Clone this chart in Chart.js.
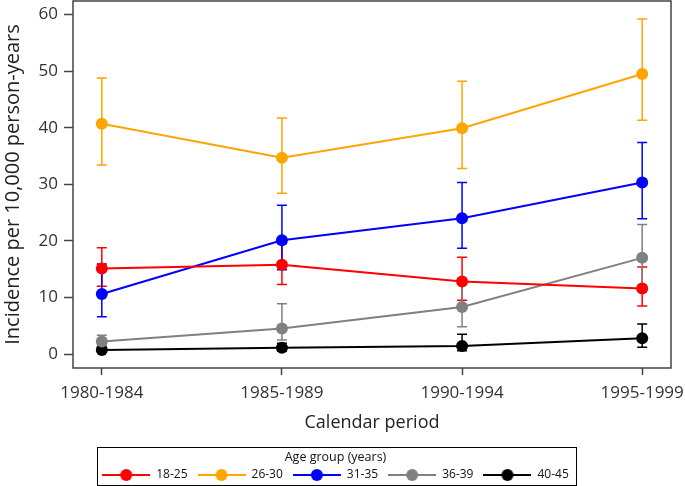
<!DOCTYPE html>
<html>
<head>
<meta charset="utf-8">
<script src="https://cdn.jsdelivr.net/npm/chart.js@4"></script>
<style>
  html, body { margin: 0; padding: 0; background: #fff; }
  #wrap { width: 685px; height: 486px; position: relative; }
</style>
</head>
<body>
<div id="wrap"><canvas id="incidenceChart"></canvas></div>
<script>
// data
const periods = ['1980-1984', '1985-1989', '1990-1994', '1995-1999'];
const ageGroups = ['18-25', '26-30', '31-35', '36-39', '40-45'];
const groupColors = ['#ff0000', '#ffa500', '#0000ff', '#808080', '#000000'];
const yTicks = [0, 10, 20, 30, 40, 50, 60];

const rate18to25 = [15.1, 15.8, 12.8, 11.6];
const lower18to25 = [12.0, 12.3, 9.5, 8.5];
const upper18to25 = [18.8, 19.5, 17.1, 15.4];

const rate26to30 = [40.7, 34.7, 39.9, 49.5];
const lower26to30 = [33.4, 28.4, 32.8, 41.3];
const upper26to30 = [48.8, 41.7, 48.2, 59.2];

const rate31to35 = [10.6, 20.1, 24.0, 30.3];
const lower31to35 = [6.6, 14.9, 18.7, 23.9];
const upper31to35 = [15.9, 26.3, 30.3, 37.4];

const rate36to39 = [2.2, 4.5, 8.3, 17.0];
const lower36to39 = [1.4, 2.5, 4.8, 12.0];
const upper36to39 = [3.3, 8.9, 13.0, 22.9];

const rate40to45 = [0.7, 1.1, 1.4, 2.8];
const lower40to45 = [0.3, 0.5, 0.6, 1.2];
const upper40to45 = [1.2, 1.9, 3.5, 5.3];

const rates = [rate18to25, rate26to30, rate31to35, rate36to39, rate40to45];
const lowers = [lower18to25, lower26to30, lower31to35, lower36to39, lower40to45];
const uppers = [upper18to25, upper26to30, upper31to35, upper36to39, upper40to45];

const FONT = "'Open Sans', 'DejaVu Sans', sans-serif";
const AXIS_COLOR = '#444';

// little line + dot sample for the legend
function legendSymbol(color) {
    const c = document.createElement('canvas');
    c.width = 48; c.height = 14;
    const g = c.getContext('2d');
    g.strokeStyle = color;
    g.lineWidth = 2;
    g.beginPath(); g.moveTo(0, 7); g.lineTo(48, 7); g.stroke();
    g.fillStyle = color;
    g.beginPath(); g.arc(24, 7, 6, 0, Math.PI * 2); g.fill();
    return c;
}

const errorBars = {
    id: 'errorBars',
    beforeDatasetsDraw(chart) {
        const ctx = chart.ctx;
        const xs = chart.scales.x, ys = chart.scales.y;
        chart.data.datasets.forEach((ds, d) => {
            ctx.save();
            ctx.strokeStyle = ds.borderColor;
            ctx.lineWidth = 1.5;
            lowers[d].forEach((lo, i) => {
                const px = xs.getPixelForValue(i);
                const pLo = ys.getPixelForValue(lo);
                const pHi = ys.getPixelForValue(uppers[d][i]);
                ctx.beginPath();
                ctx.moveTo(px, pLo); ctx.lineTo(px, pHi);
                ctx.moveTo(px - 5, pLo); ctx.lineTo(px + 5, pLo);
                ctx.moveTo(px - 5, pHi); ctx.lineTo(px + 5, pHi);
                ctx.stroke();
            });
            ctx.restore();
        });
    },
    afterDraw(chart) {
        const ctx = chart.ctx;
        const a = chart.chartArea;
        ctx.save();
        ctx.strokeStyle = AXIS_COLOR;
        ctx.lineWidth = 1.5;
        ctx.strokeRect(a.left, a.top, a.right - a.left, a.bottom - a.top);
        // box round the legend
        const lg = chart.legend;
        const boxes = lg.legendHitBoxes;
        if (boxes && boxes.length) {
            const l = boxes[0].left - 5;
            const last = boxes[boxes.length - 1];
            const r = last.left + last.width + 7;
            ctx.strokeStyle = '#000';
            ctx.lineWidth = 1;
            ctx.strokeRect(Math.round(l) + 0.5, 447.5, Math.round(r - l), 38);
        }
        ctx.restore();
    }
};

const datasets = ageGroups.map((name, d) => ({
    label: name,
    data: rates[d].map((v, i) => ({ x: i, y: v })),
    borderColor: groupColors[d],
    backgroundColor: groupColors[d],
    pointBackgroundColor: groupColors[d],
    pointBorderWidth: 0,
    pointRadius: 6,
    borderWidth: 2,
    tension: 0
}));

new Chart(document.getElementById('incidenceChart'), {
    type: 'line',
    data: { datasets },
    options: {
        responsive: true,
        maintainAspectRatio: false,
        animation: false,
        devicePixelRatio: 1,
        layout: { autoPadding: false, padding: { top: 1, right: 14, bottom: -5, left: 0 } },
        scales: {
            x: {
                type: 'linear',
                min: -0.16,
                max: 3.16,
                afterBuildTicks: scale => { scale.ticks = periods.map((p, i) => ({ value: i })); },
                afterFit: scale => {
                    scale.height = 82.75;
                    scale.paddingLeft = 0; scale.paddingRight = 0;
                },
                ticks: {
                    callback: v => periods[v],
                    color: '#333',
                    font: { family: FONT, size: 17 },
                    padding: 8,
                    maxRotation: 0
                },
                grid: { drawOnChartArea: false, color: AXIS_COLOR, tickLength: 7, tickWidth: 1.5 },
                border: { display: false },
                title: {
                    display: true,
                    text: 'Calendar period',
                    color: '#222',
                    font: { family: FONT, size: 18 },
                    padding: { top: 0, bottom: 16.95 }
                }
            },
            y: {
                min: -2.47,
                max: 62.4,
                afterBuildTicks: scale => { scale.ticks = yTicks.map(v => ({ value: v })); },
                afterFit: scale => {
                    scale.width = 73;
                    scale.paddingTop = 0; scale.paddingBottom = 0;
                },
                ticks: {
                    color: '#333',
                    font: { family: FONT, size: 17 },
                    padding: 6
                },
                grid: { drawOnChartArea: false, color: AXIS_COLOR, tickLength: 9, tickWidth: 1.5 },
                border: { display: false },
                title: {
                    display: true,
                    text: 'Incidence per 10,000 person-years',
                    color: '#222',
                    font: { family: FONT, size: 20 },
                    padding: { top: 1, bottom: 0 }
                }
            }
        },
        plugins: {
            legend: {
                position: 'bottom',
                title: {
                    display: true,
                    text: 'Age group (years)',
                    color: '#111',
                    font: { family: FONT, size: 12.5 },
                    padding: { top: 0, bottom: -6.75 }
                },
                labels: {
                    usePointStyle: true,
                    pointStyleWidth: 48,
                    boxHeight: 13,
                    padding: 10,
                    color: '#111',
                    font: { family: FONT, size: 12 },
                    generateLabels: chart => chart.data.datasets.map((ds, d) => ({
                        text: ds.label,
                        pointStyle: legendSymbol(groupColors[d]),
                        fillStyle: groupColors[d],
                        strokeStyle: groupColors[d],
                        lineWidth: 0,
                        datasetIndex: d
                    }))
                }
            },
            tooltip: { enabled: false }
        }
    },
    plugins: [errorBars]
});
</script>
</body>
</html>
